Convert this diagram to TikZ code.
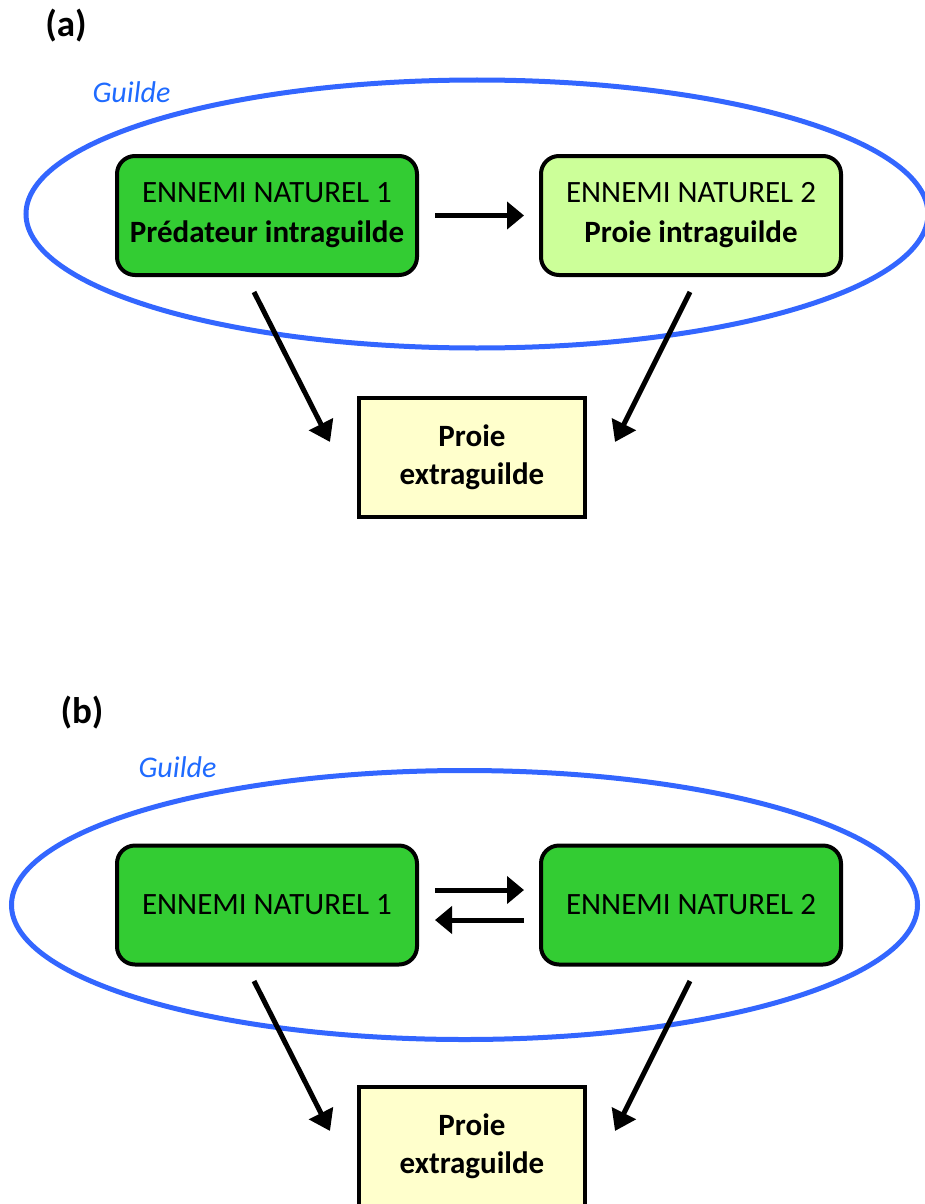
\documentclass[tikz,border=0pt]{standalone}
\usepackage{fontspec}
\setmainfont{Carlito}
\usetikzlibrary{arrows.meta}
\definecolor{darkgr}{HTML}{33CC33}
\definecolor{lightgr}{HTML}{CCFF99}
\definecolor{paleyel}{HTML}{FFFFCC}
\definecolor{guildblue}{HTML}{3366FF}
\definecolor{guildtext}{HTML}{1F6BFF}
\tikzset{
  ennemi/.style={draw=black, line width=4pt, rounded corners=18pt, minimum width=300pt, minimum height=119pt, align=center, font=\fontsize{31}{40}\selectfont, inner sep=0pt},
  proie/.style={draw=black, line width=4pt, fill=paleyel, minimum width=226pt, minimum height=119pt, align=center, font=\fontsize{31}{38}\selectfont\bfseries, inner sep=0pt},
  guild/.style={draw=guildblue, line width=5pt},
  guildlbl/.style={text=guildtext, font=\fontsize{30}{36}\selectfont\itshape, anchor=base},
  panellbl/.style={font=\fontsize{37}{42}\selectfont\bfseries, anchor=base},
  arr/.style={line width=5pt, -{Triangle[length=20pt,width=26pt]}},
  harr/.style={line width=5pt, -{Triangle[length=17pt,width=27pt]}}
}
\begin{document}
\begin{tikzpicture}[x=1pt,y=-1pt]
\useasboundingbox (0,0) rectangle (925,1204);
\clip (0,0) rectangle (925,1204);
\fill[white] (0,0) rectangle (925,1204);

% ---------- panel (a)
\node[panellbl] (la) at (66,37) {(a)};
\node[guildlbl] (ga) at (131.5,103) {Guilde};
\draw[guild] (477,214) ellipse [x radius=451, y radius=134];
\node[ennemi, fill=darkgr] (a1) at (267,215.5) {ENNEMI NATUREL 1\\\textbf{Prédateur intraguilde}};
\node[ennemi, fill=lightgr] (a2) at (691,215.5) {ENNEMI NATUREL 2\\\textbf{Proie intraguilde}};
\node[proie] (a3) at (472,457.5) {Proie\\extraguilde};
\draw[harr, shorten <=16pt, shorten >=15pt] (a1.east) -- (a2.west);
\coordinate (a1s) at (254,292);
\coordinate (a1e) at (330,442);
\coordinate (a2s) at (690,292);
\coordinate (a2e) at (615,442);
\draw[arr] (a1s) -- (a1e);
\draw[arr] (a2s) -- (a2e);

% ---------- panel (b)
\node[panellbl] (lb) at (82,723) {(b)};
\node[guildlbl] (gb) at (177.5,777) {Guilde};
\draw[guild] (464.5,905) ellipse [x radius=453, y radius=134.5];
\node[ennemi, fill=darkgr] (b1) at (267,905) {ENNEMI NATUREL 1};
\node[ennemi, fill=darkgr] (b2) at (691,905) {ENNEMI NATUREL 2};
\node[proie] (b3) at (472,1146.5) {Proie\\extraguilde};
\draw[harr, shorten <=16pt, shorten >=15pt] ([yshift=15pt]b1.east) -- ([yshift=15pt]b2.west);
\draw[harr, shorten <=15pt, shorten >=16pt] ([yshift=-15pt]b2.west) -- ([yshift=-15pt]b1.east);
\coordinate (b1s) at (254,981);
\coordinate (b1e) at (330,1131);
\coordinate (b2s) at (690,981);
\coordinate (b2e) at (615,1131);
\draw[arr] (b1s) -- (b1e);
\draw[arr] (b2s) -- (b2e);
\end{tikzpicture}
\end{document}
